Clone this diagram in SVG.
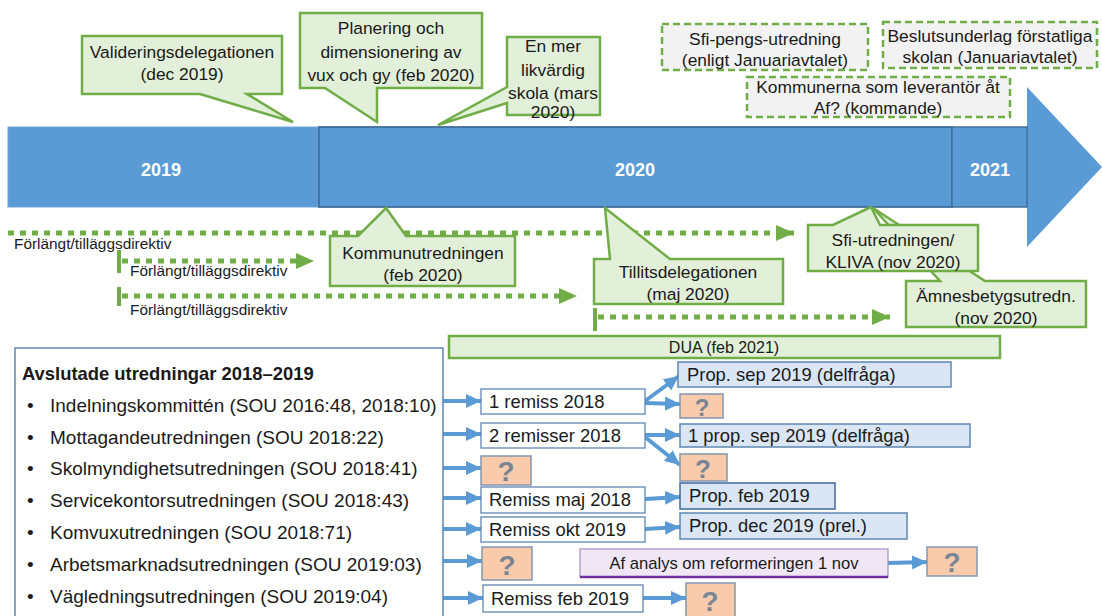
<svg xmlns="http://www.w3.org/2000/svg" width="1102" height="616" viewBox="0 0 1102 616">
<defs>
<style>
text{font-family:"Liberation Sans",Arial,sans-serif;fill:#1a1a1a}
.c17{font-size:17.4px;text-anchor:middle}
.c15{font-size:15.4px}
.b18{font-size:18.4px}
.li{font-size:19px}
.yr{font-size:18px;font-weight:bold;fill:#fff;text-anchor:middle}
.co{fill:#e2efd9;stroke:#70ad47;stroke-width:2.5;stroke-linejoin:miter}
.dash{fill:#f2f2f2;stroke:#70ad47;stroke-width:2.5;stroke-dasharray:7 4}
.dot{fill:none;stroke:#70ad47;stroke-width:5;stroke-dasharray:6 6}
.tick{stroke:#70ad47;stroke-width:4}
.wb{fill:#fff;stroke:#5f86b3;stroke-width:1.3}
.pb{fill:#dae6f4;stroke:#5f86b3;stroke-width:1.5}
.qb{fill:#f8cbad;stroke:#8497b0;stroke-width:1.5}
.q{font-size:28px;font-weight:bold;fill:#7a8594;text-anchor:middle}
.ba{stroke:#5b9bd5;stroke-width:4;fill:none;marker-end:url(#bh)}
</style>
<marker id="bh" markerUnits="userSpaceOnUse" markerWidth="15" markerHeight="15" viewBox="0 0 15 15" refX="15" refY="7.5" orient="auto"><path d="M0,0.5 L15,7.5 L0,14.5 Z" fill="#5b9bd5"/></marker>
<marker id="gh" markerUnits="userSpaceOnUse" markerWidth="18" markerHeight="18" viewBox="0 0 18 18" refX="18" refY="9" orient="auto"><path d="M0,1 L18,9 L0,17 Z" fill="#70ad47"/></marker>
</defs>

<g id="timeline">
<path d="M8,127 H1027 V87 L1102,167 L1027,247 V207 H8 Z" fill="#5b9bd5"/>
<rect x="8" y="127" width="311" height="80" fill="#5b9bd5" stroke="#6fa6da" stroke-width="1"/>
<rect x="319" y="127" width="633" height="80" fill="#5b9bd5" stroke="#41719c" stroke-width="1.8"/>
<rect x="952" y="127" width="75" height="80" fill="#5b9bd5" stroke="#41719c" stroke-width="1.5"/>
<text class="yr" x="161" y="176">2019</text>
<text class="yr" x="635" y="176">2020</text>
<text class="yr" x="990" y="176">2021</text>
</g>

<g id="connectors">
<line class="dot" x1="8" y1="233" x2="794" y2="233" marker-end="url(#gh)"/>
<line class="tick" x1="119" y1="250" x2="119" y2="273"/>
<line class="dot" x1="122" y1="261" x2="314" y2="261" marker-end="url(#gh)"/>
<line class="tick" x1="119" y1="287" x2="119" y2="306"/>
<line class="dot" x1="122" y1="296" x2="577" y2="296" marker-end="url(#gh)"/>
<line class="tick" x1="595" y1="308" x2="595" y2="331"/>
<line class="dot" x1="598" y1="317" x2="890" y2="317" marker-end="url(#gh)"/>

<line class="ba" x1="443" y1="401" x2="481" y2="401"/>
<line class="ba" x1="443" y1="434" x2="481" y2="434"/>
<line class="ba" x1="443" y1="468" x2="481" y2="468"/>
<line class="ba" x1="443" y1="498" x2="481" y2="498"/>
<line class="ba" x1="443" y1="529" x2="481" y2="529"/>
<line class="ba" x1="443" y1="561" x2="482" y2="561"/>
<line class="ba" x1="443" y1="598" x2="483" y2="598"/>
<line class="ba" x1="645" y1="401" x2="679" y2="376"/>
<line class="ba" x1="645" y1="403" x2="680" y2="404"/>
<line class="ba" x1="645" y1="435" x2="680" y2="435"/>
<line class="ba" x1="645" y1="437" x2="680" y2="465"/>
<line class="ba" x1="645" y1="499" x2="680" y2="497"/>
<line class="ba" x1="645" y1="529" x2="680" y2="527"/>
<line class="ba" x1="888" y1="563" x2="927" y2="562"/>
<line class="ba" x1="643" y1="598" x2="686" y2="598"/>
</g>

<g id="labels-dir">
<text class="c15" x="14" y="249">Förlängt/tilläggsdirektiv</text>
<text class="c15" x="130" y="276">Förlängt/tilläggsdirektiv</text>
<text class="c15" x="130" y="315">Förlängt/tilläggsdirektiv</text>
</g>

<g id="validering">
<path class="co" d="M82,36 H282 V94 H247 L293,122 L200,94 H82 Z"/>
<text class="c17" x="182" y="58">Valideringsdelegationen</text>
<text class="c17" x="182" y="80">(dec 2019)</text>
</g>
<g id="planering">
<path class="co" d="M300,13 H482 V88 H377 V122 L325,88 H300 Z"/>
<text class="c17" x="391" y="34">Planering och</text>
<text class="c17" x="391" y="58">dimensionering av</text>
<text class="c17" x="391" y="81">vux och gy  (feb 2020)</text>
</g>
<g id="likvardig">
<path class="co" d="M507,37 H600 V115 H507 V103 L438,125 L507,87 Z"/>
<text class="c17" x="553" y="52">En mer</text>
<text class="c17" x="553" y="76">likvärdig</text>
<text class="c17" x="553" y="99">skola (mars</text>
<text class="c17" x="553" y="118">2020)</text>
</g>
<g id="sfipeng">
<rect class="dash" x="662" y="24" width="206" height="46"/>
<text class="c17" x="765" y="45">Sfi-pengs-utredning</text>
<text class="c17" x="765" y="66">(enligt Januariavtalet)</text>
</g>
<g id="beslut">
<rect class="dash" x="883" y="22" width="214" height="46"/>
<text class="c17" x="990" y="42">Beslutsunderlag förstatliga</text>
<text class="c17" x="990" y="63">skolan (Januariavtalet)</text>
</g>
<g id="kommunerna">
<rect class="dash" x="747" y="77" width="263" height="40"/>
<text class="c17" x="878" y="93">Kommunerna som leverantör åt</text>
<text class="c17" x="878" y="114">Af? (kommande)</text>
</g>

<g id="kommunutr">
<path class="co" d="M330,236 H358 L386,208 L406,236 H515 V286 H330 Z"/>
<text class="c17" x="423" y="259">Kommunutredningen</text>
<text class="c17" x="423" y="281">(feb 2020)</text>
</g>
<g id="tillit">
<path class="co" d="M594,259 H610 L605,208 L670,259 H783 V304 H594 Z"/>
<text class="c17" x="688" y="278">Tillitsdelegationen</text>
<text class="c17" x="688" y="300">(maj 2020)</text>
</g>
<g id="amnes">
<path class="co" d="M906,281 H940 L873,208 L985,281 H1086 V327 H906 Z"/>
<text class="c17" x="996" y="302">Ämnesbetygsutredn.</text>
<text class="c17" x="996" y="324">(nov 2020)</text>
</g>
<g id="sfiutr">
<path class="co" d="M808,225 H833 L871,207 L880,225 H978 V271 H808 Z"/>
<text class="c17" x="893" y="246">Sfi-utredningen/</text>
<text class="c17" x="893" y="268">KLIVA (nov 2020)</text>
</g>

<g id="dua">
<rect class="co" x="449" y="336" width="551" height="22"/>
<text x="724" y="353" style="font-size:16px;text-anchor:middle">DUA (feb 2021)</text>
</g>

<g id="avslutade">
<rect x="15" y="348" width="428" height="280" fill="#fff" stroke="#5f86b3" stroke-width="1.5"/>
<text x="22" y="380" style="font-size:18.4px;font-weight:bold">Avslutade utredningar 2018–2019</text>
<g class="li">
<text x="27" y="412">•</text><text x="50" y="412">Indelningskommittén (SOU 2016:48, 2018:10)</text>
<text x="27" y="444">•</text><text x="50" y="444">Mottagandeutredningen (SOU 2018:22)</text>
<text x="27" y="475">•</text><text x="50" y="475">Skolmyndighetsutredningen (SOU 2018:41)</text>
<text x="27" y="507">•</text><text x="50" y="507">Servicekontorsutredningen (SOU 2018:43)</text>
<text x="27" y="539">•</text><text x="50" y="539">Komvuxutredningen (SOU 2018:71)</text>
<text x="27" y="571">•</text><text x="50" y="571">Arbetsmarknadsutredningen (SOU 2019:03)</text>
<text x="27" y="603">•</text><text x="50" y="603">Vägledningsutredningen (SOU 2019:04)</text>
</g>
</g>

<g id="r1"><rect class="wb" x="481" y="389" width="164" height="25"/><text class="b18" x="489" y="408">1 remiss 2018</text></g>
<g id="r2"><rect class="wb" x="481" y="423" width="164" height="25"/><text class="b18" x="489" y="442">2 remisser 2018</text></g>
<g id="r3"><rect class="wb" x="481" y="487" width="164" height="26"/><text class="b18" x="489" y="506">Remiss maj 2018</text></g>
<g id="r4"><rect class="wb" x="481" y="517" width="164" height="25"/><text class="b18" x="489" y="536">Remiss okt 2019</text></g>
<g id="r5"><rect class="wb" x="483" y="585" width="160" height="27"/><text class="b18" x="491" y="605">Remiss feb 2019</text></g>

<g id="p1"><rect class="pb" x="678" y="362" width="273" height="25"/><text class="b18" x="687" y="381">Prop. sep 2019 (delfråga)</text></g>
<g id="p2"><rect class="pb" x="680" y="424" width="290" height="23"/><text class="b18" x="688" y="442">1 prop. sep 2019 (delfråga)</text></g>
<g id="p3"><rect class="pb" x="680" y="483" width="155" height="26" style="stroke:#3f6a9c"/><text class="b18" x="689" y="502">Prop. feb 2019</text></g>
<g id="p4"><rect class="pb" x="680" y="513" width="227" height="26"/><text class="b18" x="689" y="532">Prop. dec 2019 (prel.)</text></g>

<g id="af">
<rect x="580" y="549" width="308" height="28" fill="#f1e7f4" stroke="#a48cc0" stroke-width="1.2"/>
<line x1="580" y1="577" x2="888" y2="577" stroke="#7030a0" stroke-width="2.5"/>
<text x="734" y="569" style="font-size:16.6px;text-anchor:middle">Af analys om reformeringen 1 nov</text>
</g>

<g id="q1"><rect class="qb" x="680" y="394" width="43" height="24"/><text class="q" x="702" y="416" style="font-size:24px">?</text></g>
<g id="q2"><rect class="qb" x="680" y="454" width="47" height="27"/><text class="q" x="703" y="478" style="font-size:26px">?</text></g>
<g id="q3"><rect class="qb" x="481" y="456" width="50" height="29"/><text class="q" x="506" y="481">?</text></g>
<g id="q4"><rect class="qb" x="482" y="547" width="50" height="33"/><text class="q" x="507" y="575">?</text></g>
<g id="q5"><rect class="qb" x="927" y="547" width="50" height="29"/><text class="q" x="952" y="572">?</text></g>
<g id="q6"><rect class="qb" x="686" y="583" width="49" height="36"/><text class="q" x="710" y="611">?</text></g>
</svg>
